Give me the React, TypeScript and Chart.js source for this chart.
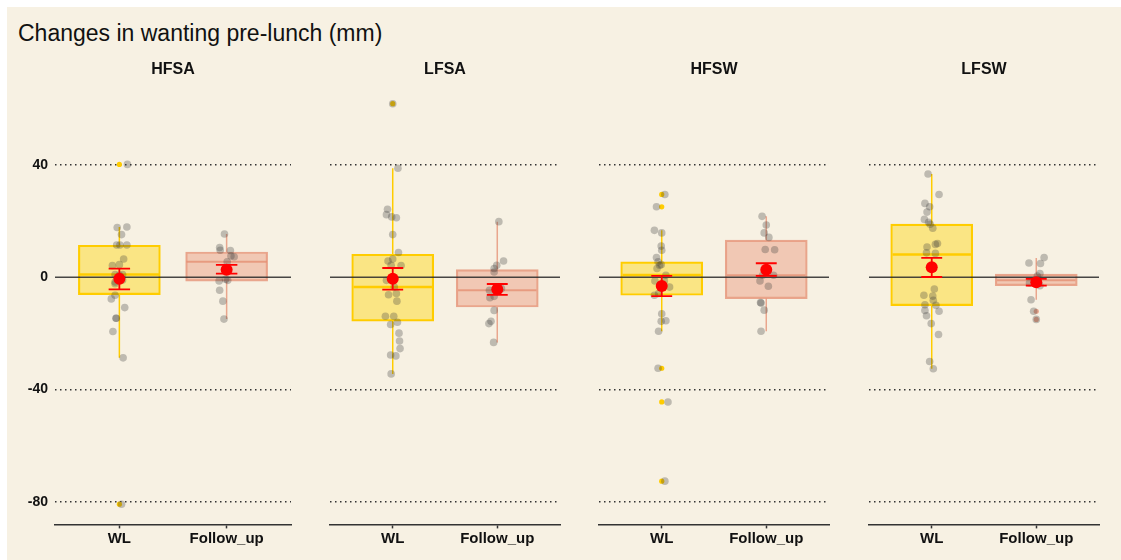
import React, { useEffect, useRef } from "react";
import { Chart, registerables } from "chart.js";

Chart.register(...registerables);

const TITLE = "Changes in wanting pre-lunch (mm)";
const PANELS = ["HFSA", "LFSA", "HFSW", "LFSW"];
const CATEGORIES = ["WL", "Follow_up"];
const Y_TICKS = [-80, -40, 0, 40];
const Y_MIN = -88;
const Y_MAX = 69;

// Box statistics, one value per panel (PANELS order)
const WL_Q1 = [-6.2, -15.6, -6.4, -10.1];
const WL_MEDIAN = [1.0, -3.5, 0.8, 8.1];
const WL_Q3 = [11.4, 8.2, 5.5, 18.9];
const WL_WHISKER_LOW = [-28.7, -34.4, -19.2, -32.6];
const WL_WHISKER_HIGH = [17.9, 38.8, 16.7, 36.8];
const WL_MEAN = [-0.5, -0.5, -3.1, 3.6];
const WL_SE_LOW = [-4.3, -4.4, -6.7, 0.1];
const WL_SE_HIGH = [3.1, 3.3, 0.5, 6.9];
const WL_OUTLIERS = [[40.2, -80.8], [61.8], [29.5, 25.1, -32.4, -44.4, -72.6], []];

const FU_Q1 = [-1.4, -10.6, -7.6, -3.0];
const FU_MEDIAN = [5.5, -4.6, 0.7, -1.1];
const FU_Q3 = [9.0, 2.7, 13.2, 1.1];
const FU_WHISKER_LOW = [-14.9, -23.2, -19.2, -8.0];
const FU_WHISKER_HIGH = [15.4, 19.8, 21.7, 6.9];
const FU_MEAN = [2.7, -4.3, 2.7, -1.8];
const FU_SE_LOW = [1.3, -6.3, 0.5, -3.0];
const FU_SE_HIGH = [4.4, -2.4, 5.0, -0.6];
const FU_OUTLIERS = [[], [], [], [-12.1, -15.0]];

const HFSA_WL_VALUES = [40.2, 17.7, 17.9, 15.2, 11.5, 11.5, 11.5, 6.5, 4.2, 4.5, 1.0, 1.0, -1.7, -1.0, 0.7, -2.3, -6.4, -7.7, -10.8, -14.6, -14.6, -19.3, -28.7, -80.8];
const HFSA_WL_JITTER = [0.075, -0.02, 0.07, 0.02, -0.025, 0.07, 0.005, 0.04, -0.065, 0, -0.04, 0.03, -0.04, 0.03, 0, -0.04, -0.04, -0.075, 0.05, -0.03, -0.03, -0.06, 0.035, 0.02];
const HFSA_FU_VALUES = [15.4, 10.6, 9.6, 9.5, 7.6, 7.3, 5.5, -0.7, -1.3, -1.1, -4.6, -8.5, -14.9];
const HFSA_FU_JITTER = [-0.02, -0.065, -0.06, 0.035, 0.04, 0.07, 0.005, -0.01, -0.07, 0.01, -0.065, -0.035, -0.025];

const LFSA_WL_VALUES = [61.8, 38.8, 24.2, 22.3, 21.5, 21.2, 15.2, 8.8, 6.5, 5.8, 4.2, 4.3, -1.1, -3.5, -6.2, -5.8, -8.5, -13.9, -13.9, -16.8, -16.0, -19.9, -22.7, -25.4, -27.7, -28.0, -34.4];
const LFSA_WL_JITTER = [0, 0.05, -0.05, -0.06, -0.01, 0.035, 0, 0.055, 0, -0.045, 0.08, -0.015, -0.06, 0.015, -0.04, 0.035, 0.04, -0.07, 0.01, -0.02, 0.045, 0.06, 0.065, 0.07, -0.02, 0.03, -0.015];
const LFSA_FU_VALUES = [19.8, 5.8, 4.3, 3.1, 1.9, -4.6, -4.0, -7.3, -6.8, -11.8, -15.7, -16.5, -23.2];
const LFSA_FU_JITTER = [0.015, 0.06, -0.005, -0.03, -0.03, -0.075, 0.04, -0.07, -0.03, -0.03, -0.06, -0.08, -0.035];

const HFSW_WL_VALUES = [29.5, 25.1, 16.7, 15.8, 11.1, 9.6, 7.0, 5.5, 4.3, 3.1, 4.5, 0.7, -1.3, -1.3, -3.5, -6.4, -5.8, -13.0, -15.7, -15.5, -19.2, -32.4, -44.4, -72.6];
const HFSW_WL_JITTER = [0.03, -0.05, -0.07, 0, -0.005, 0, -0.05, -0.035, -0.02, -0.045, -0.005, 0.04, -0.065, 0.025, 0.075, -0.07, -0.03, 0, -0.005, 0.04, -0.03, -0.035, 0.06, 0.03];
const HFSW_FU_VALUES = [21.7, 18.6, 15.8, 14.2, 9.9, 9.8, 0.7, 0.7, -1.3, -3.2, -9.0, -9.2, -11.7, -19.2];
const HFSW_FU_JITTER = [-0.04, 0, -0.02, 0.025, -0.01, 0.08, -0.035, 0.07, -0.06, 0.02, -0.055, -0.05, -0.02, -0.05];

const LFSW_WL_VALUES = [36.8, 29.5, 26.3, 25.1, 23.2, 20.6, 19.6, 18.9, 17.5, 12.0, 11.7, 10.8, 8.7, 8.5, -4.2, -6.4, -6.7, -8.2, -9.8, -10.0, -11.8, -12.1, -13.7, -16.5, -20.4, -30.0, -32.6];
const LFSW_WL_JITTER = [-0.035, 0.07, -0.065, -0.02, -0.045, -0.07, -0.03, -0.015, 0.01, 0.055, 0.035, -0.045, -0.05, 0.035, 0.025, -0.075, 0.01, 0.015, -0.065, 0.04, -0.065, 0.07, -0.05, -0.005, 0.065, -0.02, 0.015];
const LFSW_FU_VALUES = [7.0, 5.1, 4.9, 1.3, 0.4, -2.0, -3.0, -8.0, -12.1, -15.0];
const LFSW_FU_JITTER = [0.075, -0.07, 0.04, 0.035, 0.01, -0.065, 0.035, -0.05, -0.025, 0];

const WL_VALUES = [HFSA_WL_VALUES, LFSA_WL_VALUES, HFSW_WL_VALUES, LFSW_WL_VALUES];
const WL_JITTER = [HFSA_WL_JITTER, LFSA_WL_JITTER, HFSW_WL_JITTER, LFSW_WL_JITTER];
const FU_VALUES = [HFSA_FU_VALUES, LFSA_FU_VALUES, HFSW_FU_VALUES, LFSW_FU_VALUES];
const FU_JITTER = [HFSA_FU_JITTER, LFSA_FU_JITTER, HFSW_FU_JITTER, LFSW_FU_JITTER];

// Styles / layout
const BG = "#F7F1E3";
const FONT = "'Liberation Sans', Arial, Helvetica, sans-serif";
const TEXT = "#111111";
const BOX_HALF = 0.375;
const CAP_HALF = 0.1;
const WL_FILL = "rgba(255,212,0,0.42)";
const WL_LINE = "#FFCC00";
const FU_FILL = "rgba(233,150,122,0.45)";
const FU_LINE = "rgba(228,140,112,0.75)";
const POINT = "rgba(60,60,60,0.3)";
const MEAN = "#FF0000";
const PLOT_LEFT = [55, 324, 593, 863];
const PLOT_W = 242;
const Y_AXIS_W = 48;
const CANVAS_TOP = 50;
const CANVAS_H = 510;
const ORIGIN = 7;

function seg(points: { x: number; y: number }[], color: string, width: number, order: number) {
  return {
    type: "line" as const,
    data: points,
    borderColor: color,
    borderWidth: width,
    pointRadius: 0,
    fill: false,
    tension: 0,
    order,
  };
}

function buildDatasets(p: number) {
  const groups = [
    {
      c: 1, q1: WL_Q1[p], med: WL_MEDIAN[p], q3: WL_Q3[p], lo: WL_WHISKER_LOW[p], hi: WL_WHISKER_HIGH[p],
      mean: WL_MEAN[p], seLo: WL_SE_LOW[p], seHi: WL_SE_HIGH[p], out: WL_OUTLIERS[p],
      vals: WL_VALUES[p], jit: WL_JITTER[p], fill: WL_FILL, line: WL_LINE, medW: 2.5,
    },
    {
      c: 2, q1: FU_Q1[p], med: FU_MEDIAN[p], q3: FU_Q3[p], lo: FU_WHISKER_LOW[p], hi: FU_WHISKER_HIGH[p],
      mean: FU_MEAN[p], seLo: FU_SE_LOW[p], seHi: FU_SE_HIGH[p], out: FU_OUTLIERS[p],
      vals: FU_VALUES[p], jit: FU_JITTER[p], fill: FU_FILL, line: FU_LINE, medW: 2,
    },
  ];
  const ds: any[] = [];
  ds.push({
    type: "bar",
    data: groups.map((g) => ({ x: g.c, y: [g.q1, g.q3] })),
    backgroundColor: groups.map((g) => g.fill),
    borderColor: groups.map((g) => g.line),
    borderWidth: 1.5,
    borderSkipped: false,
    barThickness: 82,
    grouped: false,
    order: 8,
  });
  ds.push(seg([{ x: 0.4, y: 0 }, { x: 2.6, y: 0 }], "rgba(40,40,40,0.85)", 1.6, 4));
  for (const g of groups) {
    ds.push(seg([{ x: g.c - BOX_HALF, y: g.med }, { x: g.c + BOX_HALF, y: g.med }], g.line, g.medW, 5));
    ds.push(seg([{ x: g.c, y: g.q3 }, { x: g.c, y: g.hi }], g.line, 1.5, 6));
    ds.push(seg([{ x: g.c, y: g.q1 }, { x: g.c, y: g.lo }], g.line, 1.5, 6));
    if (g.out.length) {
      ds.push({
        type: "scatter",
        data: g.out.map((v) => ({ x: g.c, y: v })),
        backgroundColor: g.line,
        borderWidth: 0,
        pointRadius: 2.6,
        order: 3,
      });
    }
    ds.push({
      type: "scatter",
      data: g.vals.map((v, i) => ({ x: g.c + g.jit[i], y: v })),
      backgroundColor: POINT,
      borderWidth: 0,
      pointRadius: 3.8,
      order: 2,
    });
    ds.push(seg([{ x: g.c, y: g.seLo }, { x: g.c, y: g.seHi }], MEAN, 1.8, 1));
    ds.push(seg([{ x: g.c - CAP_HALF, y: g.seLo }, { x: g.c + CAP_HALF, y: g.seLo }], MEAN, 1.8, 1));
    ds.push(seg([{ x: g.c - CAP_HALF, y: g.seHi }, { x: g.c + CAP_HALF, y: g.seHi }], MEAN, 1.8, 1));
    ds.push({
      type: "scatter",
      data: [{ x: g.c, y: g.mean }],
      backgroundColor: MEAN,
      borderWidth: 0,
      pointRadius: 6,
      order: 0,
    });
  }
  return ds;
}

function Panel({ index }: { index: number }) {
  const ref = useRef<HTMLCanvasElement | null>(null);
  const yW = index === 0 ? Y_AXIS_W : 0;
  const width = PLOT_W + yW;
  const left = PLOT_LEFT[index] - yW - ORIGIN;
  useEffect(() => {
    if (!ref.current) return;
    const chart = new Chart(ref.current, {
      type: "bar",
      data: { datasets: buildDatasets(index) },
      options: {
        responsive: false,
        animation: false,
        events: [],
        layout: { padding: 0 },
        plugins: {
          legend: { display: false },
          tooltip: { enabled: false },
          title: {
            display: true,
            text: PANELS[index],
            fullSize: false,
            color: TEXT,
            font: { family: FONT, size: 16, weight: "bold" },
            padding: { top: 10.4, bottom: 3.9 },
          },
        },
        scales: {
          x: {
            type: "linear",
            min: 0.4,
            max: 2.6,
            offset: false,
            afterBuildTicks: (s: any) => {
              s.ticks = [1, 2].map((v) => ({ value: v }));
            },
            afterFit: (s: any) => {
              s.height = 35.6;
            },
            ticks: {
              callback: (v: any) => CATEGORIES[Number(v) - 1] ?? "",
              color: TEXT,
              font: { family: FONT, size: 15, weight: "bold" },
              padding: 1,
              maxRotation: 0,
              autoSkip: false,
            },
            grid: {
              offset: false,
              drawOnChartArea: false,
              drawTicks: true,
              tickLength: 4,
              tickColor: "#333",
              tickWidth: 1.5,
            },
            border: { display: true, color: "#333", width: 1.5 },
          },
          y: {
            type: "linear",
            min: Y_MIN,
            max: Y_MAX,
            afterBuildTicks: (s: any) => {
              s.ticks = Y_TICKS.map((v) => ({ value: v }));
            },
            afterFit: (s: any) => {
              s.width = yW;
            },
            ticks: {
              display: index === 0,
              color: TEXT,
              font: { family: FONT, size: 14, weight: "bold" },
              padding: 7,
              callback: (v: any) => String(v),
            },
            grid: {
              color: (ctx: any) => (ctx.tick && ctx.tick.value === 0 ? "rgba(0,0,0,0)" : "#333"),
              lineWidth: 1.5,
              drawTicks: false,
            },
            border: { display: false, dash: [1.5, 3.5] },
          },
        },
      } as any,
    });
    return () => chart.destroy();
  }, [index]);
  return (
    <canvas
      ref={ref}
      width={width}
      height={CANVAS_H}
      style={{ position: "absolute", left, top: CANVAS_TOP - ORIGIN, width, height: CANVAS_H }}
    />
  );
}

export default function App() {
  return (
    <div style={{ position: "fixed", inset: 0, background: "#ffffff", overflow: "hidden" }}>
      <div style={{ position: "absolute", left: ORIGIN, top: ORIGIN, right: 0, bottom: 0, background: BG }}>
        <div
          style={{
            position: "absolute",
            left: 11,
            top: 12.5,
            fontFamily: FONT,
            fontSize: 23,
            lineHeight: "26px",
            color: TEXT,
            whiteSpace: "nowrap",
          }}
        >
          {TITLE}
        </div>
        {PANELS.map((p, i) => (
          <Panel key={p} index={i} />
        ))}
      </div>
    </div>
  );
}
